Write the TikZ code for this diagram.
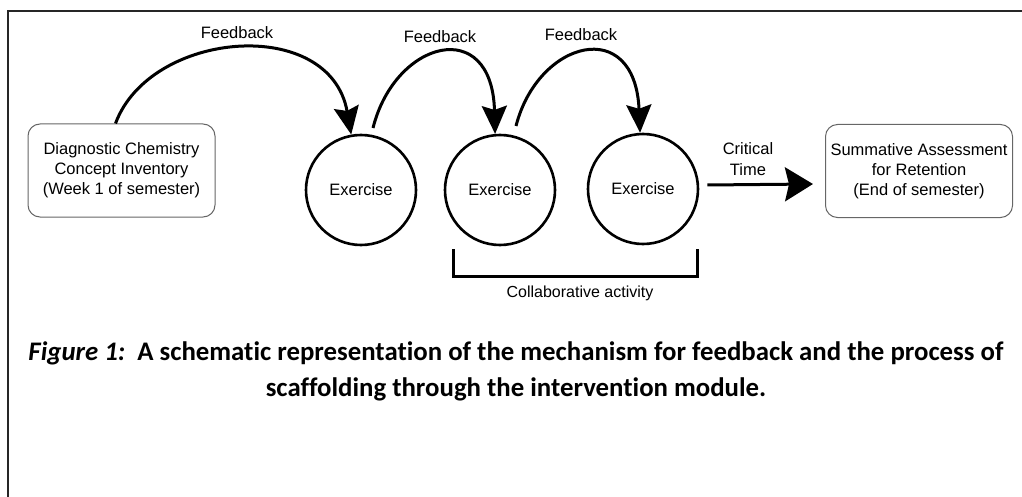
\documentclass[tikz,border=0pt]{standalone}
\usepackage{fontspec}
\setmainfont{Liberation Sans}
\newfontfamily\capfont[Ligatures=NoCommon]{Carlito}
\usetikzlibrary{arrows.meta}
\begin{document}
\begin{tikzpicture}[x=1pt,y=-1pt,
  lbl/.style={font=\fontsize{16.5}{20}\selectfont, align=center, inner sep=0pt},
  infobox/.style={draw=black!60, line width=1pt, rounded corners=12pt, minimum width=187pt, minimum height=93pt, inner sep=0pt, align=center, font=\fontsize{16.5}{20}\selectfont},
  exer/.style={circle, draw, line width=2.6pt, minimum size=110pt, inner sep=0pt, font=\fontsize{16.5}{20}\selectfont},
  fb/.style={line width=3pt, -{Stealth[length=28pt,width=25pt,inset=4pt]}},
  bigarrow/.style={line width=3pt, -{Stealth[length=28pt,width=34pt,inset=4pt]}},
  bracket/.style={line width=3pt},
  frame/.style={line width=1.6pt, draw=black!85}]
\useasboundingbox (0,0) rectangle (1022,497);
% frame
\draw[frame] (8,497) -- (8,11) -- (1022,11);
% boxes
\node[infobox] (diag) at (121.5,170.5) {Diagnostic Chemistry\\Concept Inventory\\(Week 1 of semester)};
\node[infobox] (summ) at (919,171) {Summative Assessment\\for Retention\\(End of semester)};
% exercises
\node[exer] (c1) at (361,190) {Exercise};
\node[exer] (c2) at (500,190) {Exercise};
\node[exer] (c3) at (643,189) {Exercise};
% feedback labels
\node[lbl] (f1) at (237,33) {Feedback};
\node[lbl] (f2) at (440,37) {Feedback};
\node[lbl] (f3) at (581,35) {Feedback};
% feedback arcs
\coordinate (s2) at (373,128);
\coordinate (s3) at (516,126);
\draw[fb] ([xshift=-6pt]diag.north) .. controls (150,30) and (330,15) .. (c1.100);
\draw[fb] (s2) .. controls (395,40) and (492,15) .. (c2.95);
\draw[fb] (s3) .. controls (538,40) and (635,15) .. (c3.93);
% critical time
\draw[bigarrow] ([xshift=8pt,yshift=4pt]c3.east) -- ([xshift=-12pt,yshift=-13pt]summ.west);
\node[lbl, font=\fontsize{16.5}{21}\selectfont] (ct) at (748,159.5) {Critical\\Time};
% bracket
\coordinate (bl) at (453,249);
\coordinate (br) at (697,249);
\draw[bracket] (bl) -- (bl |- 0,276) -- (br |- 0,276) -- (br);
\node[lbl, font=\fontsize{16}{20}\selectfont] (collab) at (580,293) {Collaborative activity};
% caption
\node[align=center, inner sep=0pt, font=\capfont\bfseries\fontsize{26.8}{36}\selectfont] (cap) at (516,371)
  {{\itshape Figure 1:}\ \ A schematic representation of the mechanism for feedback and the process of\\scaffolding through the intervention module.};
\end{tikzpicture}
\end{document}
